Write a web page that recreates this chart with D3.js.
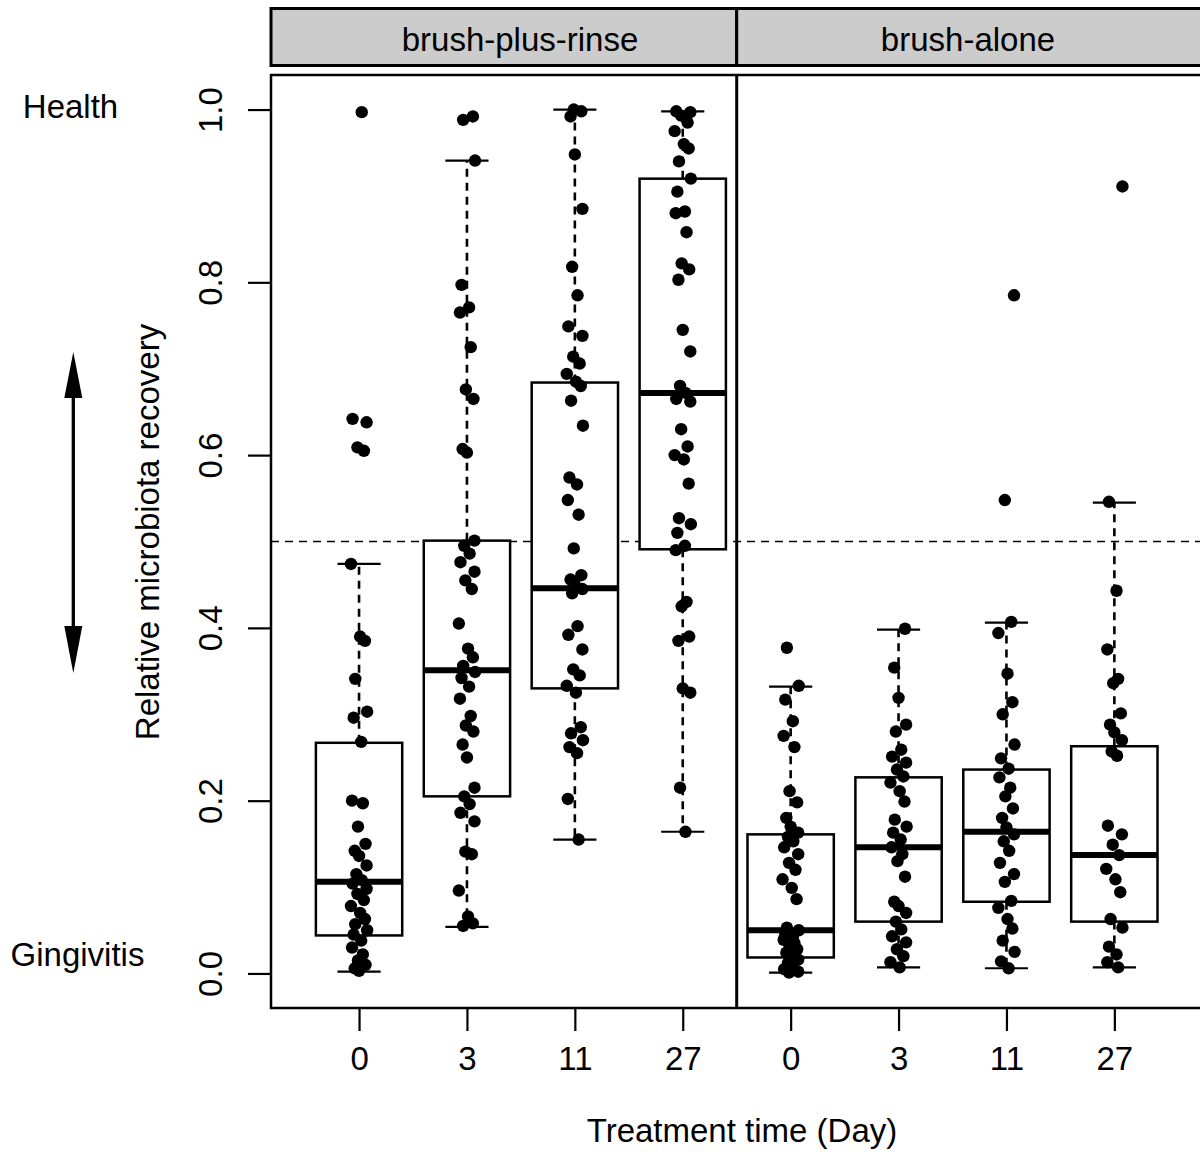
<!DOCTYPE html>
<html>
<head>
<meta charset="utf-8">
<script src="https://cdn.jsdelivr.net/npm/d3@7"></script>
<style>
  html, body { margin: 0; padding: 0; background: #fff; }
  svg { display: block; }
  text { font-family: "Liberation Sans", Arial, sans-serif; fill: #000; }
</style>
</head>
<body>
<svg id="chart" width="1200" height="1153"></svg>
<script>
// ---------------- data ----------------
const panels = ["brush-plus-rinse", "brush-alone"];
const days = ["0", "3", "11", "27"];
const yTicks = [0, 0.2, 0.4, 0.6, 0.8, 1.0];

// box statistics (per day: 0, 3, 11, 27)
const rinseQ1 = [0.044, 0.205, 0.330, 0.491];
const rinseMedian = [0.106, 0.351, 0.446, 0.672];
const rinseQ3 = [0.267, 0.501, 0.684, 0.920];
const rinseWhiskerLo = [0.002, 0.054, 0.155, 0.164];
const rinseWhiskerHi = [0.474, 0.941, 1.0, 0.998];

const aloneQ1 = [0.0185, 0.060, 0.083, 0.060];
const aloneMedian = [0.050, 0.146, 0.164, 0.137];
const aloneQ3 = [0.161, 0.227, 0.236, 0.263];
const aloneWhiskerLo = [0.001, 0.007, 0.006, 0.007];
const aloneWhiskerHi = [0.332, 0.398, 0.406, 0.545];

// individual observations
const rinseDay0 = [0.997, 0.642, 0.638, 0.609, 0.605, 0.474, 0.39, 0.385, 0.341, 0.303, 0.296, 0.268, 0.2, 0.197, 0.17, 0.15, 0.142, 0.136, 0.125, 0.115, 0.108, 0.104, 0.098, 0.092, 0.085, 0.078, 0.07, 0.063, 0.057, 0.05, 0.045, 0.038, 0.03, 0.022, 0.015, 0.01, 0.006, 0.003];
const rinseDay3 = [0.992, 0.988, 0.941, 0.797, 0.771, 0.765, 0.725, 0.676, 0.665, 0.607, 0.603, 0.501, 0.495, 0.486, 0.476, 0.465, 0.455, 0.445, 0.405, 0.376, 0.366, 0.356, 0.349, 0.342, 0.332, 0.318, 0.298, 0.287, 0.28, 0.265, 0.25, 0.215, 0.205, 0.196, 0.186, 0.176, 0.141, 0.138, 0.096, 0.066, 0.058, 0.055];
const rinseDay11 = [1.0, 0.998, 0.992, 0.948, 0.885, 0.818, 0.785, 0.749, 0.738, 0.714, 0.706, 0.694, 0.685, 0.68, 0.663, 0.634, 0.574, 0.566, 0.548, 0.531, 0.492, 0.461, 0.456, 0.45, 0.445, 0.44, 0.402, 0.392, 0.375, 0.352, 0.345, 0.333, 0.325, 0.285, 0.278, 0.27, 0.262, 0.255, 0.202, 0.155];
const rinseDay27 = [0.998, 0.997, 0.993, 0.985, 0.975, 0.96, 0.955, 0.94, 0.92, 0.905, 0.882, 0.88, 0.858, 0.822, 0.815, 0.803, 0.745, 0.72, 0.68, 0.672, 0.665, 0.662, 0.63, 0.61, 0.6, 0.595, 0.567, 0.527, 0.52, 0.51, 0.495, 0.49, 0.43, 0.425, 0.39, 0.385, 0.33, 0.325, 0.215, 0.164];

const aloneDay0 = [0.377, 0.333, 0.317, 0.292, 0.275, 0.262, 0.211, 0.198, 0.18, 0.17, 0.163, 0.158, 0.153, 0.146, 0.138, 0.128, 0.12, 0.109, 0.099, 0.086, 0.053, 0.05, 0.046, 0.042, 0.039, 0.035, 0.031, 0.028, 0.024, 0.02, 0.016, 0.012, 0.008, 0.005, 0.002, 0.001];
const aloneDay3 = [0.399, 0.354, 0.319, 0.288, 0.28, 0.259, 0.251, 0.244, 0.236, 0.228, 0.221, 0.211, 0.199, 0.178, 0.17, 0.163, 0.155, 0.146, 0.138, 0.13, 0.112, 0.083, 0.078, 0.07, 0.06, 0.051, 0.043, 0.036, 0.028, 0.02, 0.013, 0.007];
const aloneDay11 = [0.785, 0.548, 0.407, 0.394, 0.347, 0.314, 0.3, 0.265, 0.249, 0.237, 0.227, 0.215, 0.205, 0.191, 0.18, 0.169, 0.161, 0.153, 0.142, 0.128, 0.115, 0.106, 0.084, 0.076, 0.063, 0.052, 0.038, 0.025, 0.014, 0.006];
const aloneDay27 = [0.911, 0.546, 0.443, 0.375, 0.341, 0.336, 0.301, 0.288, 0.279, 0.27, 0.257, 0.252, 0.171, 0.161, 0.149, 0.137, 0.121, 0.109, 0.094, 0.063, 0.053, 0.031, 0.022, 0.013, 0.007];

// ---------------- build groups ----------------
const groups = [];
const rinsePts = [rinseDay0, rinseDay3, rinseDay11, rinseDay27];
const alonePts = [aloneDay0, aloneDay3, aloneDay11, aloneDay27];
days.forEach((d, i) => groups.push({panel: 0, day: d, pos: i + 1,
  q1: rinseQ1[i], med: rinseMedian[i], q3: rinseQ3[i], lo: rinseWhiskerLo[i], hi: rinseWhiskerHi[i], pts: rinsePts[i]}));
days.forEach((d, i) => groups.push({panel: 1, day: d, pos: i + 5,
  q1: aloneQ1[i], med: aloneMedian[i], q3: aloneQ3[i], lo: aloneWhiskerLo[i], hi: aloneWhiskerHi[i], pts: alonePts[i]}));

// fixed horizontal jitter pattern (in box-position units)
const jitterPattern = [0.025, -0.06, 0.07, -0.015, 0.045, -0.075, 0.01, 0.055, -0.035, 0.075, -0.05, 0.02, -0.065, 0.035, -0.01, 0.06, -0.04, 0.0, 0.07, -0.025];

// ---------------- layout ----------------
const svg = d3.select("#chart");
const plotLeft = 271, plotTop = 75, plotBottom = 1008;
const x = d3.scaleLinear().domain([0.184, 8.816]).range([plotLeft, 1202.4]);
const y = d3.scaleLinear().domain([-0.04, 1.04]).range([plotBottom, plotTop]);
const boxW = 0.8, capW = 0.4;

// strips
const stripTop = 8.5, stripBottom = 65.5;
const stripEdges = [[0.184, 4.5], [4.5, 8.816]];
const stripTextX = [520, 968];
panels.forEach((p, i) => {
  const x0 = x(stripEdges[i][0]), x1 = x(stripEdges[i][1]);
  svg.append("rect").attr("x", x0).attr("y", stripTop).attr("width", x1 - x0).attr("height", stripBottom - stripTop)
    .attr("fill", "#cccccc").attr("stroke", "#000").attr("stroke-width", 3);
  svg.append("text").attr("x", stripTextX[i]).attr("y", 51).attr("text-anchor", "middle")
    .attr("font-size", 33).text(p);
});

// reference line at 0.5 (drawn before boxes)
svg.append("line").attr("x1", plotLeft).attr("x2", 1202).attr("y1", y(0.5)).attr("y2", y(0.5))
  .attr("stroke", "#000").attr("stroke-width", 1.6).attr("stroke-dasharray", "8,6");

// boxes
const gBox = svg.append("g");
groups.forEach(g => {
  const cx = x(g.pos);
  // whiskers
  gBox.append("line").attr("x1", cx).attr("x2", cx).attr("y1", y(g.q3)).attr("y2", y(g.hi))
    .attr("stroke", "#000").attr("stroke-width", 2.6).attr("stroke-dasharray", "8,6");
  gBox.append("line").attr("x1", cx).attr("x2", cx).attr("y1", y(g.q1)).attr("y2", y(g.lo))
    .attr("stroke", "#000").attr("stroke-width", 2.6).attr("stroke-dasharray", "8,6");
  // caps
  [g.hi, g.lo].forEach(v => gBox.append("line")
    .attr("x1", x(g.pos - capW / 2)).attr("x2", x(g.pos + capW / 2)).attr("y1", y(v)).attr("y2", y(v))
    .attr("stroke", "#000").attr("stroke-width", 2.2));
  // box
  gBox.append("rect").attr("x", x(g.pos - boxW / 2)).attr("width", x(g.pos + boxW / 2) - x(g.pos - boxW / 2))
    .attr("y", y(g.q3)).attr("height", y(g.q1) - y(g.q3))
    .attr("fill", "#fff").attr("stroke", "#000").attr("stroke-width", 2.5);
  // median
  gBox.append("line").attr("x1", x(g.pos - boxW / 2)).attr("x2", x(g.pos + boxW / 2)).attr("y1", y(g.med)).attr("y2", y(g.med))
    .attr("stroke", "#000").attr("stroke-width", 6);
});

// points
const gPts = svg.append("g");
groups.forEach((g, gi) => {
  gPts.selectAll(null).data(g.pts).enter().append("circle")
    .attr("cx", (d, i) => x(g.pos + jitterPattern[(i + gi * 7) % jitterPattern.length]))
    .attr("cy", d => y(d))
    .attr("r", 6.2)
    .attr("fill", "#000");
});

// panel frames
svg.append("rect").attr("x", plotLeft).attr("y", plotTop).attr("width", x(8.816) - plotLeft).attr("height", plotBottom - plotTop)
  .attr("fill", "none").attr("stroke", "#000").attr("stroke-width", 2.5);
svg.append("line").attr("x1", x(4.5)).attr("x2", x(4.5)).attr("y1", plotTop).attr("y2", plotBottom)
  .attr("stroke", "#000").attr("stroke-width", 3);

// y axis
const yAxis = d3.axisLeft(y).tickValues(yTicks).tickFormat(d3.format(".1f")).tickSize(22).tickPadding(0);
const gy = svg.append("g").attr("transform", `translate(${plotLeft - 1},0)`).call(yAxis);
gy.select(".domain").remove();
gy.selectAll(".tick line").attr("stroke-width", 2.2);
gy.selectAll(".tick text")
  .attr("font-size", 33).attr("font-family", "Liberation Sans, Arial, sans-serif")
  .attr("text-anchor", "middle").attr("dy", null)
  .attr("x", 0).attr("y", -48)
  .attr("transform", "rotate(-90)");

// x axis
const xAxis = d3.axisBottom(x).tickValues(groups.map(g => g.pos)).tickFormat((d, i) => groups[i].day).tickSize(22).tickPadding(0);
const gx = svg.append("g").attr("transform", `translate(0,${plotBottom + 1})`).call(xAxis);
gx.select(".domain").remove();
gx.selectAll(".tick line").attr("stroke-width", 2.2);
gx.selectAll(".tick text").attr("font-size", 33).attr("font-family", "Liberation Sans, Arial, sans-serif")
  .attr("dy", null).attr("y", 61);

// axis titles
svg.append("text").attr("x", 742).attr("y", 1142).attr("text-anchor", "middle").attr("font-size", 33)
  .text("Treatment time (Day)");
svg.append("text").attr("transform", "translate(159,532) rotate(-90)").attr("text-anchor", "middle").attr("font-size", 33)
  .text("Relative microbiota recovery");

// side annotations
svg.append("text").attr("x", 70.5).attr("y", 118).attr("text-anchor", "middle").attr("font-size", 33).text("Health");
svg.append("text").attr("x", 77.5).attr("y", 966).attr("text-anchor", "middle").attr("font-size", 33).text("Gingivitis");

// double-headed arrow
const arrowX = 73.3;
svg.append("line").attr("x1", arrowX).attr("x2", arrowX).attr("y1", 390).attr("y2", 635)
  .attr("stroke", "#000").attr("stroke-width", 3.3);
svg.append("path").attr("d", d3.line()([[arrowX, 352], [arrowX - 9, 398], [arrowX + 9, 398]]) + "Z").attr("fill", "#000");
svg.append("path").attr("d", d3.line()([[arrowX, 673], [arrowX - 9, 626], [arrowX + 9, 626]]) + "Z").attr("fill", "#000");
</script>
</body>
</html>
